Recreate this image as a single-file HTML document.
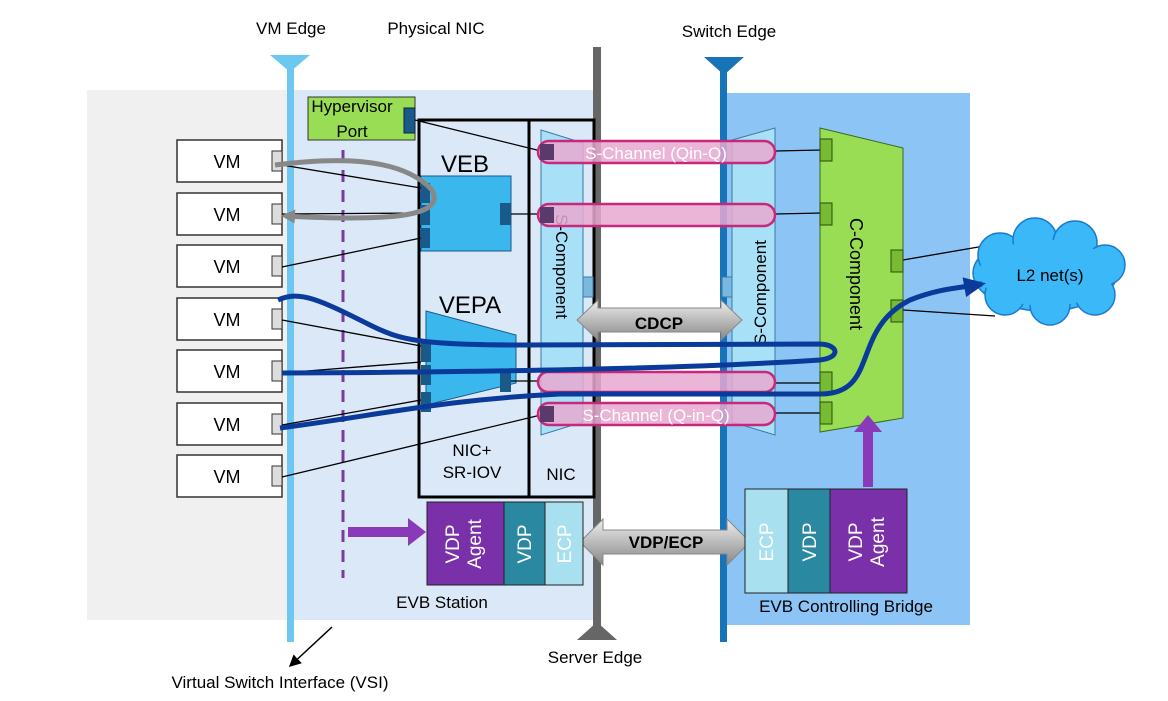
<!DOCTYPE html>
<html><head><meta charset="utf-8"><style>
body{margin:0;background:#fff}
svg{display:block;font-family:"Liberation Sans",sans-serif}
</style></head><body>
<svg width="1168" height="701" viewBox="0 0 1168 701">
<defs>
<marker id="ah" markerUnits="userSpaceOnUse" markerWidth="22" markerHeight="20" refX="18" refY="10" orient="auto"><path d="M0,0 L22,10 L0,20z" fill="#0a3a9a"/></marker>
<marker id="ag" markerUnits="userSpaceOnUse" markerWidth="14" markerHeight="14" refX="10" refY="7" orient="auto"><path d="M0,0 L14,7 L0,14z" fill="#888"/></marker>
<marker id="ak" markerWidth="8" markerHeight="8" refX="7" refY="4" orient="auto"><path d="M0,0 L8,4 L0,8z" fill="#000"/></marker>
<linearGradient id="gr" x1="0" y1="0" x2="0" y2="1"><stop offset="0" stop-color="#eee"/><stop offset=".5" stop-color="#bbb"/><stop offset="1" stop-color="#888"/></linearGradient>
</defs>
<rect x="87" y="90" width="205" height="530" fill="#f0f0f0"/>
<rect x="292" y="90" width="305" height="530" fill="#dbe8f8"/>
<rect x="722" y="93" width="248" height="532" fill="#8cc4f6"/>
<rect x="287" y="62" width="7" height="580" fill="#6cc8f0"/>
<path d="M270,55 L310,55 L290,72z" fill="#6cc8f0"/>
<rect x="593" y="47" width="8" height="585" fill="#666"/>
<path d="M577,640 L617,640 L597,622z" fill="#666"/>
<rect x="720" y="62" width="7" height="580" fill="#1874b8"/>
<path d="M704,57 L744,57 L724,75z" fill="#1874b8"/>
<g font-size="17" fill="#000" text-anchor="middle">
<text x="291" y="34">VM Edge</text>
<text x="436" y="34">Physical NIC</text>
<text x="729" y="37">Switch Edge</text>
<text x="595" y="663">Server Edge</text>
<text x="442" y="608">EVB Station</text>
<text x="846" y="612">EVB Controlling Bridge</text>
<text x="280" y="688">Virtual Switch Interface (VSI)</text>
</g>
<line x1="332" y1="627" x2="290" y2="666" stroke="#000" stroke-width="1.5" marker-end="url(#ak)"/>
<g font-size="18" text-anchor="middle">
<rect x="177" y="140" width="105" height="42" fill="#fff" stroke="#333" stroke-width="1.5"/><rect x="272" y="151" width="10" height="20" fill="#ddd" stroke="#333"/><text x="227" y="168">VM</text>
<rect x="177" y="193" width="105" height="42" fill="#fff" stroke="#333" stroke-width="1.5"/><rect x="272" y="204" width="10" height="20" fill="#ddd" stroke="#333"/><text x="227" y="221">VM</text>
<rect x="177" y="245" width="105" height="42" fill="#fff" stroke="#333" stroke-width="1.5"/><rect x="272" y="256" width="10" height="20" fill="#ddd" stroke="#333"/><text x="227" y="273">VM</text>
<rect x="177" y="298" width="105" height="42" fill="#fff" stroke="#333" stroke-width="1.5"/><rect x="272" y="309" width="10" height="20" fill="#ddd" stroke="#333"/><text x="227" y="326">VM</text>
<rect x="177" y="350" width="105" height="42" fill="#fff" stroke="#333" stroke-width="1.5"/><rect x="272" y="361" width="10" height="20" fill="#ddd" stroke="#333"/><text x="227" y="378">VM</text>
<rect x="177" y="403" width="105" height="42" fill="#fff" stroke="#333" stroke-width="1.5"/><rect x="272" y="414" width="10" height="20" fill="#ddd" stroke="#333"/><text x="227" y="431">VM</text>
<rect x="177" y="455" width="105" height="42" fill="#fff" stroke="#333" stroke-width="1.5"/><rect x="272" y="466" width="10" height="20" fill="#ddd" stroke="#333"/><text x="227" y="483">VM</text>
</g>
<rect x="308" y="97" width="107" height="43" fill="#99dd55" stroke="#333"/>
<rect x="404" y="108" width="11" height="25" fill="#1a5a8a" stroke="#123"/>
<text x="352" y="112" font-size="17" text-anchor="middle">Hypervisor</text>
<text x="352" y="137" font-size="17" text-anchor="middle">Port</text>
<line x1="343" y1="150" x2="343" y2="578" stroke="#7a3aa0" stroke-width="3" stroke-dasharray="12,8"/>
<rect x="419" y="120" width="175" height="377" fill="none" stroke="#000" stroke-width="3"/>
<line x1="529" y1="120" x2="529" y2="497" stroke="#000" stroke-width="3"/>
<text x="472" y="456" font-size="17" text-anchor="middle">NIC+</text>
<text x="472" y="478" font-size="17" text-anchor="middle">SR-IOV</text>
<text x="561" y="480" font-size="17" text-anchor="middle">NIC</text>
<text x="465" y="172" font-size="24" text-anchor="middle">VEB</text>
<rect x="421" y="176" width="90" height="75" fill="#3ab8ee" stroke="#1a5a8a"/>
<rect x="420" y="183" width="10" height="20" fill="#1a5a8a"/><rect x="420" y="205" width="10" height="20" fill="#1a5a8a"/><rect x="420" y="228" width="10" height="20" fill="#1a5a8a"/>
<rect x="500" y="203" width="11" height="22" fill="#1a5a8a"/>
<text x="470" y="313" font-size="24" text-anchor="middle">VEPA</text>
<path d="M426,311 L516,335 L516,383 L426,405z" fill="#3ab8ee" stroke="#1a5a8a"/>
<rect x="421" y="340" width="10" height="22" fill="#1a5a8a"/><rect x="421" y="365" width="10" height="20" fill="#1a5a8a"/><rect x="421" y="392" width="10" height="20" fill="#1a5a8a"/>
<rect x="500" y="372" width="11" height="20" fill="#1a5a8a"/>
<g stroke="#000" stroke-width="1.3" fill="none">
<line x1="282" y1="165" x2="421" y2="188"/>
<line x1="282" y1="214" x2="421" y2="213"/>
<line x1="282" y1="267" x2="421" y2="238"/>
<line x1="282" y1="320" x2="421" y2="346"/>
<line x1="282" y1="373" x2="421" y2="362"/>
<line x1="282" y1="425" x2="421" y2="400"/>
<line x1="282" y1="477" x2="545" y2="414"/>
<line x1="415" y1="120" x2="545" y2="152"/>
<line x1="511" y1="214" x2="545" y2="214"/>
<line x1="511" y1="381" x2="545" y2="381"/>
<line x1="775" y1="151" x2="822" y2="150"/>
<line x1="775" y1="214" x2="822" y2="213"/>
<line x1="775" y1="383" x2="822" y2="383"/>
<line x1="775" y1="413" x2="822" y2="413"/>
<line x1="903" y1="260" x2="990" y2="245"/>
<line x1="903" y1="310" x2="995" y2="316"/>
</g>
<path d="M541,130 L583,143 L583,422 L541,435z" fill="#a8e0f8" stroke="#3a7aa0"/>
<text transform="translate(556,214) rotate(90)" font-size="17">S-Component</text>
<rect x="583" y="277" width="10" height="20" fill="#7ab8e0" stroke="#3a7aa0"/>
<path d="M732,140 L775,128 L775,435 L732,422z" fill="#a8e0f8" stroke="#3a7aa0"/>
<text transform="translate(766,345) rotate(-90)" font-size="17">S-Component</text>
<rect x="722" y="277" width="10" height="20" fill="#7ab8e0" stroke="#3a7aa0"/>
<g stroke="#c8287a" stroke-width="2.5" fill="#e8a8d0" fill-opacity=".85">
<rect x="538" y="141" width="237" height="22" rx="11"/>
<rect x="538" y="204" width="237" height="22" rx="11"/>
<rect x="538" y="372" width="237" height="20" rx="10"/>
<rect x="538" y="403" width="237" height="22" rx="11"/>
</g>
<g fill="#5a3a6a"><rect x="540" y="144" width="14" height="16"/><rect x="540" y="207" width="14" height="16"/><rect x="540" y="406" width="14" height="16"/></g>
<text x="656" y="159" font-size="17" fill="#fff" text-anchor="middle">S-Channel (Qin-Q)</text>
<text x="656" y="421" font-size="17" fill="#fff" text-anchor="middle">S-Channel (Q-in-Q)</text>
<path d="M820,128 L903,148 L903,418 L820,432z" fill="#99dd55" stroke="#3a6a1a"/>
<text transform="translate(850,218) rotate(90)" font-size="18">C-Component</text>
<g fill="#77bb33" stroke="#2a4a10"><rect x="820" y="139" width="12" height="22"/><rect x="820" y="203" width="12" height="22"/><rect x="820" y="372" width="12" height="22"/><rect x="820" y="402" width="12" height="22"/><rect x="891" y="250" width="12" height="22"/><rect x="891" y="300" width="12" height="22"/></g>
<g fill="#3ab8f8" stroke="#1a7ad0" stroke-width="1.5">
<ellipse cx="1045" cy="273" rx="72" ry="38"/>
<circle cx="1000" cy="255" r="22"/><circle cx="1035" cy="240" r="22"/><circle cx="1075" cy="243" r="22"/><circle cx="1105" cy="265" r="20"/><circle cx="1095" cy="295" r="20"/><circle cx="1050" cy="305" r="20"/><circle cx="1005" cy="295" r="20"/>
</g>
<ellipse cx="1047" cy="273" rx="68" ry="33" fill="#3ab8f8"/>
<text x="1050" y="281" font-size="17" text-anchor="middle">L2 net(s)</text>
<path d="M577,320 L598,300 L598,308 L721,308 L721,300 L742,320 L721,340 L721,332 L598,332 L598,340z" fill="url(#gr)" stroke="#888"/>
<text x="659" y="329" font-size="17" font-weight="bold" text-anchor="middle">CDCP</text>
<path d="M580,542 L603,519 L603,530 L727,530 L727,519 L750,542 L727,565 L727,554 L603,554 L603,565z" fill="url(#gr)" stroke="#888"/>
<text x="666" y="548" font-size="17" font-weight="bold" text-anchor="middle">VDP/ECP</text>
<rect x="427" y="502" width="77" height="83" fill="#7a30a8" stroke="#222"/>
<rect x="504" y="502" width="41" height="83" fill="#2a88a0" stroke="#222"/>
<rect x="545" y="502" width="38" height="83" fill="#a8e0f0" stroke="#222"/>
<g font-size="19" fill="#fff" text-anchor="middle">
<text transform="translate(459,544) rotate(-90)">VDP</text>
<text transform="translate(481,544) rotate(-90)">Agent</text>
<text transform="translate(531,544) rotate(-90)">VDP</text>
<text transform="translate(571,544) rotate(-90)">ECP</text>
</g>
<rect x="745" y="489" width="43" height="104" fill="#a8e0f0" stroke="#222"/>
<rect x="788" y="489" width="42" height="104" fill="#2a88a0" stroke="#222"/>
<rect x="830" y="489" width="77" height="104" fill="#7a30a8" stroke="#222"/>
<g font-size="19" fill="#fff" text-anchor="middle">
<text transform="translate(773,542) rotate(-90)">ECP</text>
<text transform="translate(816,542) rotate(-90)">VDP</text>
<text transform="translate(862,542) rotate(-90)">VDP</text>
<text transform="translate(884,542) rotate(-90)">Agent</text>
</g>
<path d="M348,527 L408,527 L408,518 L426,532 L408,546 L408,537 L348,537z" fill="#8a3ab8"/>
<path d="M863,487 L863,432 L854,432 L868,415 L882,432 L873,432 L873,487z" fill="#8a3ab8"/>
<path d="M275,165 C330,158 400,155 432,190 C445,215 400,222 285,216" fill="none" stroke="#888" stroke-width="5" marker-end="url(#ag)"/>
<g fill="none" stroke="#0a3a9a" stroke-width="5">
<path d="M278,300 C300,290 320,300 370,325 C400,340 420,345 520,345 L820,344 C840,345 840,358 820,360 C700,368 500,372 282,373"/>
<path d="M280,428 C380,415 440,400 560,394 L820,394 C880,394 850,330 910,300 C940,288 960,288 982,284" marker-end="url(#ah)"/>
</g>
</svg>
</body></html>
